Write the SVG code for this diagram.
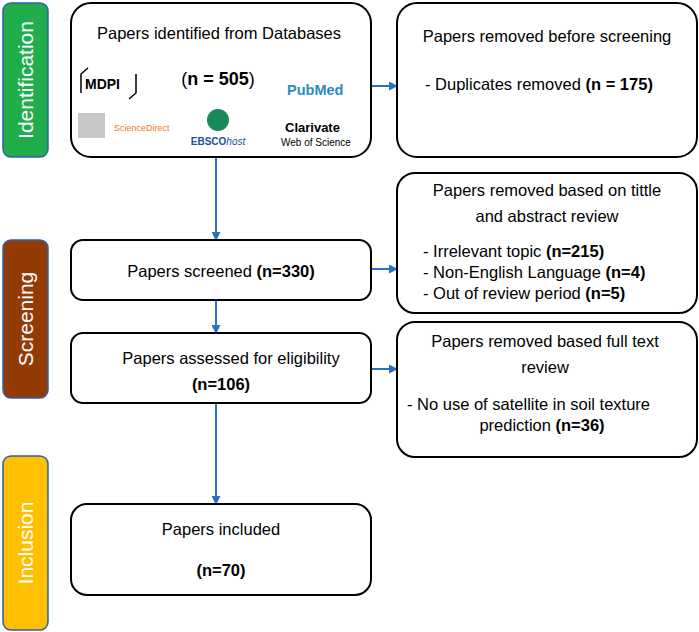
<svg xmlns="http://www.w3.org/2000/svg" width="699" height="632" viewBox="0 0 699 632">
<style>
text{font-family:"Liberation Sans",Arial,sans-serif;fill:#000}
.box{fill:#fff;stroke:#000;stroke-width:2}
.side{stroke:#2e5fa8;stroke-width:1.5}
.st{fill:#fff;font-size:21px}
.t{font-size:16.5px}
.c line{stroke:#2a70c4;stroke-width:2;marker-end:url(#a)}
</style>
<defs><marker id="a" markerWidth="9" markerHeight="9" refX="7" refY="4.5" orient="auto" markerUnits="userSpaceOnUse"><path d="M0,0L9,4.5L0,9z" fill="#2a70c4"/></marker></defs>
<g id="identification-label"><rect class="side" x="3" y="3" width="45" height="154" rx="8" fill="#1fae4b"/><text class="st" transform="translate(33,80) rotate(-90)" text-anchor="middle">Identification</text></g>
<g id="screening-label"><rect class="side" x="3" y="240" width="45" height="158" rx="8" fill="#943a05"/><text class="st" transform="translate(33,319) rotate(-90)" text-anchor="middle">Screening</text></g>
<g id="inclusion-label"><rect class="side" x="3" y="456" width="45" height="174" rx="8" fill="#ffc000"/><text class="st" transform="translate(33,543) rotate(-90)" text-anchor="middle">Inclusion</text></g>
<g class="c">
<line x1="371" y1="86" x2="396" y2="86"/>
<line x1="216" y1="157" x2="216" y2="239"/>
<line x1="371" y1="269" x2="396" y2="269"/>
<line x1="216" y1="300" x2="216" y2="332"/>
<line x1="371" y1="369" x2="396" y2="369"/>
<line x1="216" y1="403" x2="216" y2="503"/>
</g>
<g id="identified"><rect class="box" x="71" y="3" width="300" height="154" rx="20"/>
<text class="t" x="219" y="39" text-anchor="middle">Papers identified from Databases</text>
<text x="218" y="85" text-anchor="middle" font-size="18" font-weight="bold"><tspan font-weight="normal">(</tspan>n = 505<tspan font-weight="normal">)</tspan></text>
<path d="M81,93 V74 L88,68 M136,74 V93 L129,99" fill="none" stroke="#000" stroke-width="1.5"/>
<text x="85" y="89" font-size="14" font-weight="bold">MDPI</text>
<text x="287" y="95" font-size="14.5" font-weight="bold" style="fill:#2a8bc4">PubMed</text>
<rect x="78" y="113" width="27" height="25" fill="#c8c8c8"/>
<text x="114" y="131" font-size="9" style="fill:#f07a22">ScienceDirect</text>
<circle cx="218" cy="120" r="11" fill="#1a8a5a"/>
<text x="218" y="145" font-size="10" font-weight="bold" text-anchor="middle" style="fill:#1b4f9c">EBSCO<tspan font-style="italic" font-weight="normal">host</tspan></text>
<text x="285" y="132" font-size="13" font-weight="bold">Clarivate</text>
<text x="281" y="146" font-size="10">Web of Science</text></g>
<g id="removed-before"><rect class="box" x="397" y="3" width="300" height="154" rx="20"/>
<text class="t" x="547" y="42" text-anchor="middle">Papers removed before screening</text>
<text class="t" x="425" y="90">- Duplicates removed <tspan font-weight="bold">(n = 175)</tspan></text></g>
<g id="screened"><rect class="box" x="71" y="240" width="300" height="60" rx="12"/>
<text class="t" x="221" y="277" text-anchor="middle">Papers screened <tspan font-weight="bold">(n=330)</tspan></text></g>
<g id="removed-abstract"><rect class="box" x="397" y="173" width="300" height="140" rx="18"/>
<text class="t" x="547" y="196" text-anchor="middle">Papers removed based on tittle</text>
<text class="t" x="547" y="222" text-anchor="middle">and abstract review</text>
<text class="t" x="423" y="257">- Irrelevant topic <tspan font-weight="bold">(n=215)</tspan></text>
<text class="t" x="423" y="278">- Non-English Language <tspan font-weight="bold">(n=4)</tspan></text>
<text class="t" x="423" y="299">- Out of review period <tspan font-weight="bold">(n=5)</tspan></text></g>
<g id="assessed"><rect class="box" x="71" y="333" width="300" height="70" rx="12"/>
<text class="t" x="231" y="364" text-anchor="middle">Papers assessed for eligibility</text>
<text class="t" x="221" y="390" text-anchor="middle" font-weight="bold">(n=106)</text></g>
<g id="removed-fulltext"><rect class="box" x="397" y="322" width="300" height="135" rx="18"/>
<text class="t" x="545" y="347" text-anchor="middle">Papers removed based full text</text>
<text class="t" x="545" y="373" text-anchor="middle">review</text>
<text class="t" x="407" y="410">- No use of satellite in soil texture</text>
<text class="t" x="542" y="431" text-anchor="middle">prediction <tspan font-weight="bold">(n=36)</tspan></text></g>
<g id="included"><rect class="box" x="71" y="504" width="300" height="91" rx="16"/>
<text class="t" x="221" y="535" text-anchor="middle">Papers included</text>
<text class="t" x="221" y="576" text-anchor="middle" font-weight="bold">(n=70)</text></g>
</svg>
